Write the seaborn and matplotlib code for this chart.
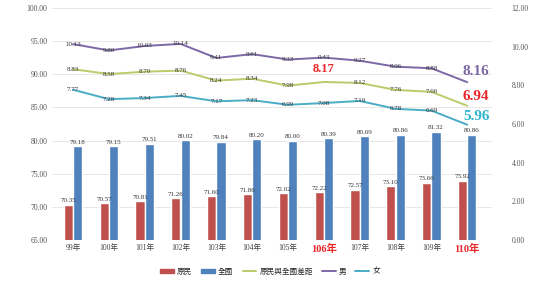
import seaborn as sns
import pandas as pd
import matplotlib.pyplot as plt
from matplotlib.patches import Patch
from matplotlib.lines import Line2D

# data
years = ['99年', '100年', '101年', '102年', '103年', '104年', '105年',
         '106年', '107年', '108年', '109年', '110年']
yuanmin = [70.35, 70.57, 70.81, 71.26, 71.60, 71.86, 72.02, 72.22, 72.57, 73.10, 73.66, 73.92]
quanguo = [79.18, 79.15, 79.51, 80.02, 79.84, 80.20, 80.00, 80.39, 80.69, 80.86, 81.32, 80.86]
gap = [8.83, 8.58, 8.70, 8.76, 8.24, 8.34, 7.98, 8.17, 8.12, 7.76, 7.66, 6.94]
male = [10.13, 9.80, 10.03, 10.14, 9.41, 9.61, 9.33, 9.43, 9.27, 8.96, 8.88, 8.16]
female = [7.77, 7.28, 7.34, 7.45, 7.17, 7.23, 6.99, 7.08, 7.19, 6.78, 6.69, 5.96]
highlight = ['106年', '110年']

c_red = '#C0504D'
c_blue = '#4F81BD'
c_gap = '#BACB6A'
c_male = '#7B68A6'
c_female = '#4BACC6'

serif = ['Liberation Serif', 'Noto Sans CJK TC']
cjk = ['Noto Sans CJK TC', 'DejaVu Sans']

bars = pd.DataFrame({
    'year': years * 2,
    'value': yuanmin + quanguo,
    'group': ['原民'] * len(years) + ['全國'] * len(years),
})
idx = list(range(len(years)))
lines = pd.DataFrame({'x': idx, 'gap': gap, 'male': male, 'female': female})

sns.set_style('white')
plt.rcParams['font.family'] = serif

fig = plt.figure(figsize=(5.51, 2.82), dpi=100)
ax = fig.add_axes([0.0935, 0.149, 0.80, 0.823])

sns.barplot(data=bars, x='year', y='value', hue='group', order=years,
            hue_order=['原民', '全國'], palette=[c_red, c_blue],
            width=0.52, gap=0.02, saturation=1, legend=False, ax=ax)
ax.set_ylim(65, 100)
ax.set_yticks([65, 70, 75, 80, 85, 90, 95, 100])
ax.set_yticklabels([f'{v:.2f}' for v in ax.get_yticks()], fontsize=5.5, color='#555555')
ax.yaxis.grid(True, color='#E3E3E3', lw=0.6)
ax.set_axisbelow(True)
ax.set_xlim(-0.6, 11.7)
ax.set_xlabel('')
ax.set_ylabel('')
ax.tick_params(length=0, pad=3)
for s in ax.spines.values():
    s.set_visible(False)

for lab in ax.get_xticklabels():
    lab.set_family(serif)
    if lab.get_text() in highlight:
        lab.set_color('#E8262A')
        lab.set_fontweight('bold')
        lab.set_fontsize(7.5)
    else:
        lab.set_fontsize(5.5)
        lab.set_color('#444444')

for cont, vals in zip(ax.containers, [yuanmin, quanguo]):
    ax.bar_label(cont, labels=[f'{v:.2f}' for v in vals], fontsize=5, color='#333333', padding=1)

ax2 = ax.twinx()
sns.lineplot(data=lines, x='x', y='gap', color=c_gap, lw=1.4, ax=ax2)
sns.lineplot(data=lines, x='x', y='male', color=c_male, lw=1.4, ax=ax2)
sns.lineplot(data=lines, x='x', y='female', color=c_female, lw=1.4, ax=ax2)
ax2.set_ylim(0, 12)
ax2.set_yticks([0, 2, 4, 6, 8, 10, 12])
ax2.set_yticklabels([f'{v:.2f}' for v in ax2.get_yticks()], fontsize=5.5, color='#555555')
ax2.set_xlim(-0.6, 11.7)
ax2.set_ylabel('')
ax2.set_xlabel('')
ax2.tick_params(length=0, pad=14)
for s in ax2.spines.values():
    s.set_visible(False)

for series in [gap, male, female]:
    for i, v in enumerate(series[:-1]):
        if series is gap and i == 7:
            ax2.text(i, v + 0.35, f'{v:.2f}', ha='center', va='bottom', fontsize=9,
                     color='#E8262A', fontweight='bold')
            continue
        ax2.text(i, v, f'{v:.2f}', ha='center', va='center', fontsize=5, color='#333333')

ax2.text(11.25, male[-1] + 0.55, f'{male[-1]:.2f}', ha='center', va='center',
         fontsize=11, color=c_male, fontweight='bold')
ax2.text(11.25, gap[-1] + 0.5, f'{gap[-1]:.2f}', ha='center', va='center',
         fontsize=11, color='#E8262A', fontweight='bold')
ax2.text(11.25, female[-1] + 0.45, f'{female[-1]:.2f}', ha='center', va='center',
         fontsize=11, color='#2FB5CF', fontweight='bold')

handles = [Patch(color=c_red), Patch(color=c_blue),
           Line2D([], [], color=c_gap, lw=1.4), Line2D([], [], color=c_male, lw=1.4),
           Line2D([], [], color=c_female, lw=1.4)]
names = ['原民', '全國', '原民與全國差距', '男', '女']
fig.legend(handles, names, loc='center', bbox_to_anchor=(0.49, 0.037), ncol=5,
           frameon=False, prop={'family': cjk, 'size': 5.5}, handlelength=1.8,
           handleheight=0.5, columnspacing=1.2, handletextpad=0.4)

fig.savefig('out.png', dpi=100)
